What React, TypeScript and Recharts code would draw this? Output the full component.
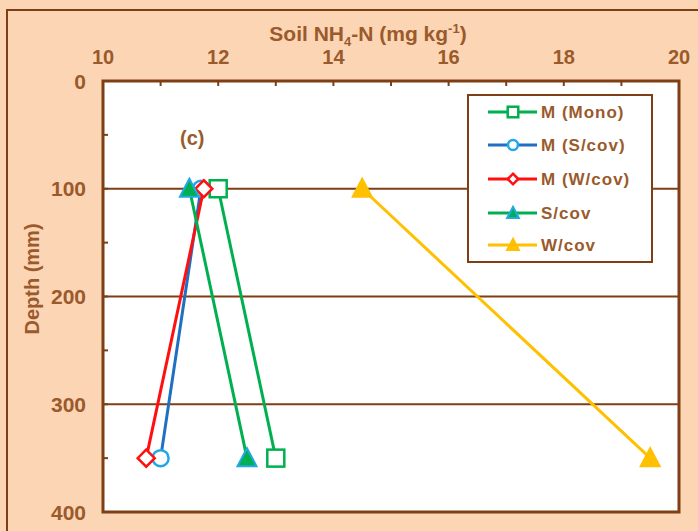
import React from 'react';
import {
  ScatterChart,
  Scatter,
  XAxis,
  YAxis,
  CartesianGrid,
  ReferenceLine,
  ReferenceArea,
  ReferenceDot,
  Legend,
} from 'recharts';

// depths sampled (mm) and soil NH4-N readings (mg/kg) for each treatment
const depths = [100, 350];
const monoM = [12.0, 13.0];
const sCovM = [11.7, 11.0];
const wCovM = [11.75, 10.75];
const sCov = [11.5, 12.5];
const wCov = [14.5, 19.5];

const seriesNames = ['M (Mono)', 'M (S/cov)', 'M (W/cov)', 'S/cov', 'W/cov'];
const seriesValues = [monoM, sCovM, wCovM, sCov, wCov];

const xTicks = [10, 11, 12, 13, 14, 15, 16, 17, 18, 19, 20];
const yTicks = [0, 50, 100, 150, 200, 250, 300, 350, 400];
const gridDepths = [100, 200, 300];

const BROWN = '#7e3f14';
const TEXT = '#9a5a2b';
const PEACH = '#fcd5b5';
const FONT = 'Arial, "Liberation Sans", sans-serif';

const styles = [
  { line: '#00b050', kind: 'square', stroke: '#00b050', fill: '#fff' },
  { line: '#1f6fc2', kind: 'circle', stroke: '#23a6e6', fill: '#fff' },
  { line: '#ff1010', kind: 'diamond', stroke: '#ff1010', fill: '#fff' },
  { line: '#00b050', kind: 'triangle', stroke: '#22a8e4', fill: '#00b050' },
  { line: '#ffc000', kind: 'triangle', stroke: '#ffc000', fill: '#ffc000' },
];

const toRows = (vals: number[]) => depths.map((d, i) => ({ x: vals[i], depth: d }));

function Marker({ kind, cx, cy, stroke, fill, s = 1 }: any) {
  if (cx == null || cy == null) return null;
  if (kind === 'square') {
    const h = 8.5 * s;
    return <rect x={cx - h} y={cy - h} width={h * 2} height={h * 2} fill={fill} stroke={stroke} strokeWidth={2.5} />;
  }
  if (kind === 'circle') {
    return <circle cx={cx} cy={cy} r={8 * s} fill={fill} stroke={stroke} strokeWidth={2.5} />;
  }
  if (kind === 'diamond') {
    const h = 8.5 * s;
    return (
      <polygon
        points={`${cx},${cy - h} ${cx + h},${cy} ${cx},${cy + h} ${cx - h},${cy}`}
        fill={fill}
        stroke={stroke}
        strokeWidth={2.5}
      />
    );
  }
  const w = 9.5 * s;
  return (
    <polygon
      points={`${cx},${cy - 10 * s} ${cx + w},${cy + 8 * s} ${cx - w},${cy + 8 * s}`}
      fill={fill}
      stroke={stroke}
      strokeWidth={2}
      strokeLinejoin="miter"
    />
  );
}

const XTick = (props: any) => {
  const { x, y, payload } = props;
  const v = payload.value;
  return (
    <g>
      <line x1={x} y1={y} x2={x} y2={y + 5} stroke={BROWN} strokeWidth={2} />
      {v % 2 === 0 && (
        <text x={x} y={y - 24} textAnchor="middle" dominantBaseline="central" fill={TEXT}
          style={{ fontFamily: FONT, fontWeight: 700, fontSize: 20 }}>
          {v}
        </text>
      )}
    </g>
  );
};

const YTick = (props: any) => {
  const { x, y, payload } = props;
  const v = payload.value;
  return (
    <g>
      <line x1={x} y1={y} x2={x + 5} y2={y} stroke={BROWN} strokeWidth={2} />
      {v % 100 === 0 && (
        <text x={x - 17} y={y} textAnchor="end" dominantBaseline="central" fill={TEXT}
          style={{ fontFamily: FONT, fontWeight: 700, fontSize: 21 }}>
          {v}
        </text>
      )}
    </g>
  );
};

const XTitle = () => (
  <text x={368} y={41} textAnchor="middle" fill={TEXT}
    style={{ fontFamily: FONT, fontWeight: 700, fontSize: 21 }}>
    Soil NH
    <tspan fontSize={13} dy={5}>4</tspan>
    <tspan dy={-5}>-N (mg kg</tspan>
    <tspan fontSize={13} dy={-8}>-1</tspan>
    <tspan dy={8}>)</tspan>
  </text>
);

const YTitle = () => (
  <text x={32} y={279} textAnchor="middle" dominantBaseline="central" fill={TEXT}
    transform="rotate(-90 32 279)"
    style={{ fontFamily: FONT, fontWeight: 700, fontSize: 20 }}>
    Depth (mm)
  </text>
);

const LegendBox = () => (
  <div style={{ width: 186, height: 169, background: '#fff', border: `2px solid ${BROWN}`, boxSizing: 'border-box' }}>
    <svg width={182} height={165}>
      {seriesNames.map((name, i) => {
        const st = styles[i];
        const cy = [16, 49, 83, 117, 149][i];
        return (
          <g key={name}>
            <line x1={19} x2={68} y1={cy} y2={cy} stroke={st.line} strokeWidth={3} />
            <Marker kind={st.kind} cx={44} cy={cy} stroke={st.stroke} fill={st.fill} s={0.62} />
            <text x={72} y={cy} dominantBaseline="central" fill={TEXT}
              style={{ fontFamily: FONT, fontWeight: 700, fontSize: 17, letterSpacing: 1 }}>
              {name}
            </text>
          </g>
        );
      })}
    </svg>
  </div>
);

export default function App() {
  return (
    <div style={{ position: 'absolute', left: 0, top: 0, width: 698, height: 531, background: PEACH, overflow: 'hidden' }}>
      <div style={{ position: 'absolute', left: 6, top: 9, width: 800, height: 600, borderLeft: `2px solid ${BROWN}`, borderTop: `2px solid ${BROWN}` }} />
      <div style={{ position: 'absolute', left: 0, top: 0 }}>
        <ScatterChart width={698} height={531} margin={{ top: 51, right: 19, bottom: 19, left: 43 }}>
          <CartesianGrid fill="#fff" horizontal={false} vertical={false} />
          <XAxis
            type="number"
            dataKey="x"
            orientation="top"
            domain={[10, 20]}
            ticks={xTicks}
            interval={0}
            height={30}
            tickSize={0}
            tickMargin={0}
            tickLine={false}
            axisLine={false}
            tick={<XTick />}
            label={{ content: <XTitle /> }}
          />
          <YAxis
            type="number"
            dataKey="depth"
            reversed
            domain={[0, 400]}
            ticks={yTicks}
            interval={0}
            width={60}
            tickSize={0}
            tickMargin={0}
            tickLine={false}
            axisLine={false}
            tick={<YTick />}
            label={{ content: <YTitle /> }}
          />
          {gridDepths.map((d) => (
            <ReferenceLine key={d} y={d} stroke={BROWN} strokeWidth={2} />
          ))}
          <ReferenceArea x1={10} x2={20} y1={0} y2={400} fill="none" stroke={BROWN} strokeWidth={3} ifOverflow="visible" />
          <ReferenceDot
            x={11.55}
            y={53}
            r={0}
            fill="none"
            stroke="none"
            label={{ value: '(c)', position: 'center', fill: TEXT, fontSize: 20, fontWeight: 700, fontFamily: FONT }}
          />
          {seriesValues.map((vals, i) => {
            const st = styles[i];
            return (
              <Scatter
                key={seriesNames[i]}
                name={seriesNames[i]}
                data={toRows(vals)}
                line={{ stroke: st.line, strokeWidth: 3 }}
                lineType="joint"
                isAnimationActive={false}
                shape={(p: any) => <Marker kind={st.kind} cx={p.cx} cy={p.cy} stroke={st.stroke} fill={st.fill} />}
              />
            );
          })}
          <Legend
            layout="vertical"
            align="center"
            verticalAlign="middle"
            wrapperStyle={{ top: 94, left: 467, width: 186, height: 169 }}
            content={<LegendBox />}
          />
        </ScatterChart>
      </div>
    </div>
  );
}
